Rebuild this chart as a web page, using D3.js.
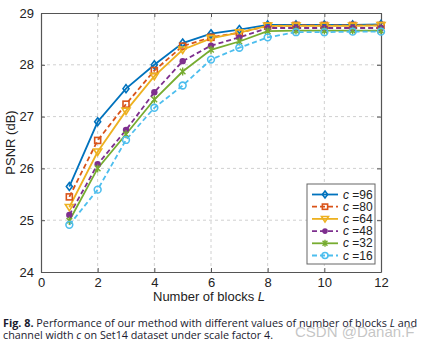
<!DOCTYPE html>
<html>
<head>
<meta charset="utf-8">
<script src="https://cdn.jsdelivr.net/npm/d3@7"></script>
<style>
  body { margin: 0; background: #fff; }
  svg { display: block; }
</style>
</head>
<body>
<div id="chart"></div>
<script>
// number of blocks L
const blocks = [1, 2, 3, 4, 5, 6, 7, 8, 9, 10, 11, 12];
const channelWidths = [96, 80, 64, 48, 32, 16];

// PSNR (dB) per channel width
const psnr96 = [25.65, 26.90, 27.54, 28.00, 28.42, 28.60, 28.68, 28.77, 28.77, 28.77, 28.77, 28.78];
const psnr80 = [25.45, 26.54, 27.24, 27.89, 28.36, 28.53, 28.62, 28.75, 28.76, 28.76, 28.76, 28.76];
const psnr64 = [25.25, 26.32, 27.11, 27.78, 28.29, 28.51, 28.62, 28.75, 28.75, 28.75, 28.75, 28.76];
const psnr48 = [25.10, 26.08, 26.74, 27.47, 28.07, 28.37, 28.53, 28.71, 28.71, 28.71, 28.71, 28.71];
const psnr32 = [24.99, 26.00, 26.66, 27.33, 27.87, 28.29, 28.45, 28.65, 28.66, 28.66, 28.66, 28.66];
const psnr16 = [24.91, 25.59, 26.55, 27.17, 27.60, 28.10, 28.33, 28.53, 28.63, 28.63, 28.64, 28.64];

const xTicks = [0, 2, 4, 6, 8, 10, 12];
const yTicks = [24, 25, 26, 27, 28, 29];

const series = [
  { c: 96, values: psnr96, color: "#0072BD", dash: null, marker: "diamond" },
  { c: 80, values: psnr80, color: "#D95319", dash: "5,3", marker: "square" },
  { c: 64, values: psnr64, color: "#EDB120", dash: null, marker: "triangle" },
  { c: 48, values: psnr48, color: "#7E2F8E", dash: "5,3", marker: "dot" },
  { c: 32, values: psnr32, color: "#77AC30", dash: null, marker: "cross" },
  { c: 16, values: psnr16, color: "#4DBEEE", dash: "5,3", marker: "circle" },
];

const width = 429, height = 345;
const margin = { left: 41, right: 48, top: 13, bottom: 73 };
const plotW = width - margin.left - margin.right;
const plotH = height - margin.top - margin.bottom;

const svg = d3.select("#chart").append("svg")
  .attr("width", width).attr("height", height)
  .style("font-family", "'Liberation Sans', Arial, sans-serif");

const x = d3.scaleLinear().domain([0, 12]).range([margin.left, margin.left + plotW]);
const y = d3.scaleLinear().domain([24, 29]).range([margin.top + plotH, margin.top]);

// grid
const grid = svg.append("g");
grid.selectAll("line.vx").data(xTicks.slice(1, -1)).enter().append("line")
  .attr("x1", (d) => x(d)).attr("x2", (d) => x(d))
  .attr("y1", y(24)).attr("y2", y(29))
  .attr("stroke", "#d0d0d0").attr("stroke-dasharray", "3,3").attr("stroke-width", 1);
grid.selectAll("line.hy").data(yTicks.slice(1, -1)).enter().append("line")
  .attr("y1", (d) => y(d)).attr("y2", (d) => y(d))
  .attr("x1", x(0)).attr("x2", x(12))
  .attr("stroke", "#d0d0d0").attr("stroke-dasharray", "3,3").attr("stroke-width", 1);

// axes
const axisColor = "#555";
const fmt = d3.format("d");
const xAxis = svg.append("g")
  .attr("transform", `translate(0,${y(24)})`)
  .call(d3.axisBottom(x).tickValues(xTicks).tickFormat(fmt).tickSizeInner(-4).tickSizeOuter(0).tickPadding(6));
const yAxis = svg.append("g")
  .attr("transform", `translate(${x(0)},0)`)
  .call(d3.axisLeft(y).tickValues(yTicks).tickFormat(fmt).tickSizeInner(-4).tickSizeOuter(0).tickPadding(7));
const xTop = svg.append("g")
  .attr("transform", `translate(0,${y(29)})`)
  .call(d3.axisTop(x).tickValues(xTicks).tickSizeInner(-4).tickSizeOuter(0).tickFormat(""));
const yRight = svg.append("g")
  .attr("transform", `translate(${x(12)},0)`)
  .call(d3.axisRight(y).tickValues(yTicks).tickSizeInner(-4).tickSizeOuter(0).tickFormat(""));

[xAxis, yAxis, xTop, yRight].forEach((g) => {
  g.select(".domain").attr("stroke", axisColor).attr("stroke-width", 1.2);
  g.selectAll(".tick line").attr("stroke", axisColor);
  g.selectAll(".tick text").attr("fill", "#222").style("font-size", "13px");
});

// axis labels
svg.append("text")
  .attr("x", x(6) - 2).attr("y", 301)
  .attr("text-anchor", "middle").attr("fill", "#222").style("font-size", "13px")
  .html('Number of blocks <tspan font-style="italic">L</tspan>');
svg.append("text")
  .attr("transform", `translate(15,${y(26.5)}) rotate(-90)`)
  .attr("text-anchor", "middle").attr("fill", "#222").style("font-size", "13px")
  .text("PSNR (dB)");

// markers
function drawMarker(g, type, color, size) {
  const s = size;
  if (type === "diamond") {
    g.append("path").attr("d", `M0,${-s}L${s * 0.75},0L0,${s}L${-s * 0.75},0Z`)
      .attr("fill", "none").attr("stroke", color).attr("stroke-width", 1.6);
  } else if (type === "square") {
    g.append("rect").attr("x", -s * 0.75).attr("y", -s * 0.75)
      .attr("width", s * 1.5).attr("height", s * 1.5)
      .attr("fill", "none").attr("stroke", color).attr("stroke-width", 1.6);
  } else if (type === "triangle") {
    g.append("path").attr("d", `M${-s},${-s * 0.7}L${s},${-s * 0.7}L0,${s * 0.9}Z`)
      .attr("fill", "none").attr("stroke", color).attr("stroke-width", 1.6);
  } else if (type === "dot") {
    g.append("circle").attr("r", s * 0.8).attr("fill", color);
  } else if (type === "cross") {
    const a = s * 0.7;
    g.append("path").attr("d", `M${-a},${-a}L${a},${a}M${-a},${a}L${a},${-a}M0,${-s}L0,${s}`)
      .attr("stroke", color).attr("stroke-width", 1.4);
  } else if (type === "circle") {
    g.append("circle").attr("r", s * 0.85)
      .attr("fill", "none").attr("stroke", color).attr("stroke-width", 1.6);
  }
}

const line = d3.line().x((d, i) => x(blocks[i])).y((d) => y(d));

series.forEach((s) => {
  svg.append("path")
    .datum(s.values)
    .attr("d", line)
    .attr("fill", "none")
    .attr("stroke", s.color)
    .attr("stroke-width", 1.8)
    .attr("stroke-dasharray", s.dash);
});
series.forEach((s) => {
  s.values.forEach((v, i) => {
    const g = svg.append("g").attr("transform", `translate(${x(blocks[i])},${y(v)})`);
    drawMarker(g, s.marker, s.color, 4);
  });
});

// legend
const legend = svg.append("g").attr("transform", "translate(307,184)");
legend.append("rect").attr("width", 68).attr("height", 80)
  .attr("fill", "#fff").attr("stroke", "#666").attr("stroke-width", 1);
series.forEach((s, i) => {
  const ly = 10.5 + i * 12.2;
  legend.append("line").attr("x1", 5).attr("x2", 31).attr("y1", ly).attr("y2", ly)
    .attr("stroke", s.color).attr("stroke-width", 1.8).attr("stroke-dasharray", s.dash);
  const g = legend.append("g").attr("transform", `translate(18,${ly})`);
  drawMarker(g, s.marker, s.color, 3.5);
  legend.append("text").attr("x", 36).attr("y", ly + 4)
    .attr("fill", "#222").style("font-size", "12px")
    .html(`<tspan font-style="italic">c</tspan> =${s.c}`);
});

// caption
const cap = svg.append("g").style("font-family", "'Open Sans', 'Noto Sans', sans-serif")
  .style("font-size", "10px").attr("fill", "#1a1a2e");
cap.append("text").attr("x", 3).attr("y", 327).attr("textLength", 414).attr("lengthAdjust", "spacingAndGlyphs")
  .html('<tspan font-weight="bold">Fig. 8.</tspan>  Performance of our method with different values of number of blocks <tspan font-style="italic">L</tspan> and');
cap.append("text").attr("x", 3).attr("y", 339).attr("textLength", 270).attr("lengthAdjust", "spacingAndGlyphs")
  .html('channel width <tspan font-style="italic">c</tspan> on Set14 dataset under scale factor 4.');

// watermark
svg.append("text").attr("x", 295).attr("y", 337)
  .style("font-family", "'Liberation Sans', Arial, sans-serif")
  .style("font-size", "15px").attr("fill", "#bbb").attr("fill-opacity", 0.85)
  .text("CSDN @Danan.F");
</script>
</body>
</html>
